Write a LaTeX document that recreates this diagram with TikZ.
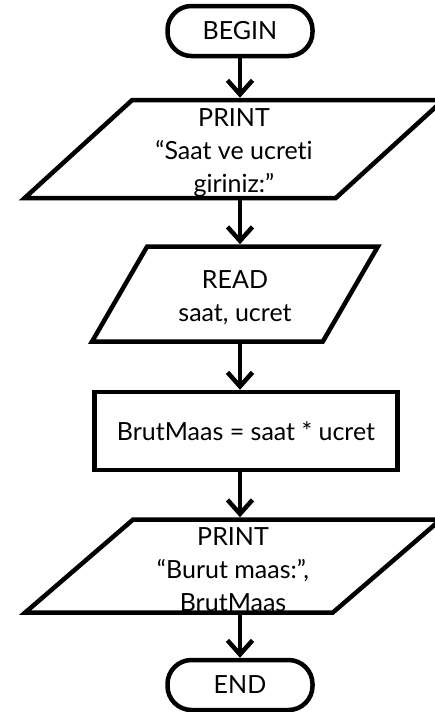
\documentclass[tikz,border=0pt]{standalone}
\usepackage{fontspec}
\setmainfont{Lato}[Ligatures={TeX,NoCommon}]
\usetikzlibrary{arrows.meta, shapes.geometric}
\newcommand{\topline}{\rule{0pt}{25pt}}

\begin{document}
\begin{tikzpicture}[
    x=1pt, y=-1pt,
    font=\fontsize{25}{33}\selectfont,
    flow/.style={-{Straight Barb[length=14pt, width=25pt]}, line width=4.5pt},
    term/.style={draw, line width=4.5pt, rounded corners=24pt, minimum width=145pt,
        minimum height=50pt, inner sep=0pt},
    io/.style={draw, line width=4.5pt, shape=trapezium, trapezium stretches=true,
        align=center, inner sep=0pt},
    proc/.style={draw, line width=4.5pt, minimum width=303pt, minimum height=78pt},
]
\useasboundingbox (0,0) rectangle (434,712);

% --- baslangic ---
\node[term] (begin) at (240,31) {BEGIN};

% --- giris / cikis ---
\node[io, trapezium left angle=49, trapezium right angle=131,
      minimum width=420pt, minimum height=98pt] (print1) at (234,149)
    {\topline PRINT\\“Saat ve ucreti\\giriniz:”};
\node[io, trapezium left angle=60, trapezium right angle=120,
      minimum width=286pt, minimum height=95pt] (read) at (235,294)
    {\topline READ\\saat, ucret};

% --- islem ---
\node[proc] (calc) at (246,431) {BrutMaas = saat * ucret};

\node[io, trapezium left angle=48, trapezium right angle=132,
      minimum width=416pt, minimum height=93pt] (print2) at (233,566)
    {\topline PRINT\\“Burut maas:”,\\BrutMaas};

% --- bitis ---
\node[term] (end) at (240,685) {END};

% akis oklari
\draw[flow] (begin.south) -- (begin.south |- print1.north);
\draw[flow] (begin.south |- print1.south) -- (begin.south |- read.north);
\draw[flow] (begin.south |- read.south) -- (begin.south |- calc.north);
\draw[flow] (begin.south |- calc.south) -- (begin.south |- print2.north);
\draw[flow] (begin.south |- print2.south) -- (end.north);

\end{tikzpicture}
\end{document}
